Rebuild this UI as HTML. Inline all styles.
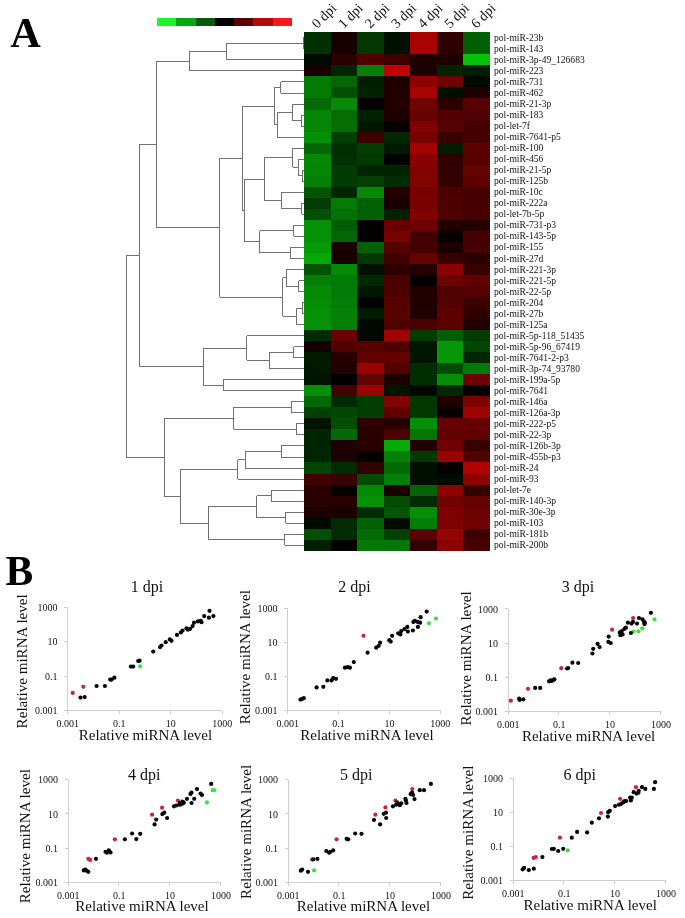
<!DOCTYPE html>
<html lang="en"><head><meta charset="utf-8"><title>Figure</title>
<style>html,body{margin:0;padding:0;background:#fff}body{width:685px;height:918px;overflow:hidden}</style>
</head><body>
<svg width="685" height="918" viewBox="0 0 685 918" style="display:block;will-change:transform">
<rect width="685" height="918" fill="#fff"/>
<g shape-rendering="crispEdges">
<rect x="157.00" y="18.0" width="19.59" height="8.20" fill="#1cf52a"/>
<rect x="176.29" y="18.0" width="19.59" height="8.20" fill="#0aa514"/>
<rect x="195.57" y="18.0" width="19.59" height="8.20" fill="#095a0c"/>
<rect x="214.86" y="18.0" width="19.59" height="8.20" fill="#020202"/>
<rect x="234.14" y="18.0" width="19.59" height="8.20" fill="#5a0303"/>
<rect x="253.43" y="18.0" width="19.59" height="8.20" fill="#b40a0a"/>
<rect x="272.71" y="18.0" width="19.59" height="8.20" fill="#ff1616"/>
</g>
<g shape-rendering="crispEdges">
<rect x="304.00" y="32.30" width="26.94" height="11.43" fill="rgb(1,48,2)"/>
<rect x="330.54" y="32.30" width="26.94" height="11.43" fill="rgb(23,0,0)"/>
<rect x="357.08" y="32.30" width="26.94" height="11.43" fill="rgb(2,55,2)"/>
<rect x="383.62" y="32.30" width="26.94" height="11.43" fill="rgb(0,17,0)"/>
<rect x="410.16" y="32.30" width="26.94" height="11.43" fill="rgb(170,3,3)"/>
<rect x="436.70" y="32.30" width="26.94" height="11.43" fill="rgb(47,0,0)"/>
<rect x="463.24" y="32.30" width="26.94" height="11.43" fill="rgb(3,95,4)"/>
<rect x="304.00" y="43.33" width="26.94" height="11.43" fill="rgb(1,48,2)"/>
<rect x="330.54" y="43.33" width="26.94" height="11.43" fill="rgb(23,0,0)"/>
<rect x="357.08" y="43.33" width="26.94" height="11.43" fill="rgb(2,55,2)"/>
<rect x="383.62" y="43.33" width="26.94" height="11.43" fill="rgb(0,17,0)"/>
<rect x="410.16" y="43.33" width="26.94" height="11.43" fill="rgb(170,3,3)"/>
<rect x="436.70" y="43.33" width="26.94" height="11.43" fill="rgb(47,0,0)"/>
<rect x="463.24" y="43.33" width="26.94" height="11.43" fill="rgb(3,95,4)"/>
<rect x="304.00" y="54.36" width="26.94" height="11.43" fill="rgb(0,10,0)"/>
<rect x="330.54" y="54.36" width="26.94" height="11.43" fill="rgb(43,0,0)"/>
<rect x="357.08" y="54.36" width="26.94" height="11.43" fill="rgb(78,1,1)"/>
<rect x="383.62" y="54.36" width="26.94" height="11.43" fill="rgb(62,1,1)"/>
<rect x="410.16" y="54.36" width="26.94" height="11.43" fill="rgb(31,0,0)"/>
<rect x="436.70" y="54.36" width="26.94" height="11.43" fill="rgb(31,0,0)"/>
<rect x="463.24" y="54.36" width="26.94" height="11.43" fill="rgb(7,192,9)"/>
<rect x="304.00" y="65.39" width="26.94" height="11.43" fill="rgb(23,0,0)"/>
<rect x="330.54" y="65.39" width="26.94" height="11.43" fill="rgb(1,38,1)"/>
<rect x="357.08" y="65.39" width="26.94" height="11.43" fill="rgb(5,127,6)"/>
<rect x="383.62" y="65.39" width="26.94" height="11.43" fill="rgb(192,3,3)"/>
<rect x="410.16" y="65.39" width="26.94" height="11.43" fill="rgb(29,0,0)"/>
<rect x="436.70" y="65.39" width="26.94" height="11.43" fill="rgb(1,37,1)"/>
<rect x="463.24" y="65.39" width="26.94" height="11.43" fill="rgb(1,30,1)"/>
<rect x="304.00" y="76.42" width="26.94" height="11.43" fill="rgb(4,122,6)"/>
<rect x="330.54" y="76.42" width="26.94" height="11.43" fill="rgb(4,102,5)"/>
<rect x="357.08" y="76.42" width="26.94" height="11.43" fill="rgb(1,30,1)"/>
<rect x="383.62" y="76.42" width="26.94" height="11.43" fill="rgb(30,0,0)"/>
<rect x="410.16" y="76.42" width="26.94" height="11.43" fill="rgb(142,2,2)"/>
<rect x="436.70" y="76.42" width="26.94" height="11.43" fill="rgb(108,2,2)"/>
<rect x="463.24" y="76.42" width="26.94" height="11.43" fill="rgb(0,9,0)"/>
<rect x="304.00" y="87.45" width="26.94" height="11.43" fill="rgb(4,122,6)"/>
<rect x="330.54" y="87.45" width="26.94" height="11.43" fill="rgb(3,80,4)"/>
<rect x="357.08" y="87.45" width="26.94" height="11.43" fill="rgb(1,34,1)"/>
<rect x="383.62" y="87.45" width="26.94" height="11.43" fill="rgb(32,0,0)"/>
<rect x="410.16" y="87.45" width="26.94" height="11.43" fill="rgb(168,3,3)"/>
<rect x="436.70" y="87.45" width="26.94" height="11.43" fill="rgb(0,16,0)"/>
<rect x="463.24" y="87.45" width="26.94" height="11.43" fill="rgb(31,0,0)"/>
<rect x="304.00" y="98.48" width="26.94" height="11.43" fill="rgb(4,106,5)"/>
<rect x="330.54" y="98.48" width="26.94" height="11.43" fill="rgb(5,137,6)"/>
<rect x="357.08" y="98.48" width="26.94" height="11.43" fill="rgb(4,0,0)"/>
<rect x="383.62" y="98.48" width="26.94" height="11.43" fill="rgb(35,0,0)"/>
<rect x="410.16" y="98.48" width="26.94" height="11.43" fill="rgb(113,2,2)"/>
<rect x="436.70" y="98.48" width="26.94" height="11.43" fill="rgb(42,0,0)"/>
<rect x="463.24" y="98.48" width="26.94" height="11.43" fill="rgb(87,1,1)"/>
<rect x="304.00" y="109.51" width="26.94" height="11.43" fill="rgb(5,133,6)"/>
<rect x="330.54" y="109.51" width="26.94" height="11.43" fill="rgb(4,110,5)"/>
<rect x="357.08" y="109.51" width="26.94" height="11.43" fill="rgb(1,31,1)"/>
<rect x="383.62" y="109.51" width="26.94" height="11.43" fill="rgb(30,0,0)"/>
<rect x="410.16" y="109.51" width="26.94" height="11.43" fill="rgb(103,2,2)"/>
<rect x="436.70" y="109.51" width="26.94" height="11.43" fill="rgb(81,1,1)"/>
<rect x="463.24" y="109.51" width="26.94" height="11.43" fill="rgb(81,1,1)"/>
<rect x="304.00" y="120.54" width="26.94" height="11.43" fill="rgb(5,133,6)"/>
<rect x="330.54" y="120.54" width="26.94" height="11.43" fill="rgb(4,110,5)"/>
<rect x="357.08" y="120.54" width="26.94" height="11.43" fill="rgb(0,22,1)"/>
<rect x="383.62" y="120.54" width="26.94" height="11.43" fill="rgb(6,0,0)"/>
<rect x="410.16" y="120.54" width="26.94" height="11.43" fill="rgb(128,2,2)"/>
<rect x="436.70" y="120.54" width="26.94" height="11.43" fill="rgb(85,1,1)"/>
<rect x="463.24" y="120.54" width="26.94" height="11.43" fill="rgb(65,1,1)"/>
<rect x="304.00" y="131.57" width="26.94" height="11.43" fill="rgb(5,143,7)"/>
<rect x="330.54" y="131.57" width="26.94" height="11.43" fill="rgb(2,62,3)"/>
<rect x="357.08" y="131.57" width="26.94" height="11.43" fill="rgb(60,1,1)"/>
<rect x="383.62" y="131.57" width="26.94" height="11.43" fill="rgb(1,40,2)"/>
<rect x="410.16" y="131.57" width="26.94" height="11.43" fill="rgb(120,2,2)"/>
<rect x="436.70" y="131.57" width="26.94" height="11.43" fill="rgb(55,1,1)"/>
<rect x="463.24" y="131.57" width="26.94" height="11.43" fill="rgb(71,1,1)"/>
<rect x="304.00" y="142.60" width="26.94" height="11.43" fill="rgb(4,103,5)"/>
<rect x="330.54" y="142.60" width="26.94" height="11.43" fill="rgb(1,47,2)"/>
<rect x="357.08" y="142.60" width="26.94" height="11.43" fill="rgb(2,62,3)"/>
<rect x="383.62" y="142.60" width="26.94" height="11.43" fill="rgb(1,27,1)"/>
<rect x="410.16" y="142.60" width="26.94" height="11.43" fill="rgb(163,3,3)"/>
<rect x="436.70" y="142.60" width="26.94" height="11.43" fill="rgb(1,28,1)"/>
<rect x="463.24" y="142.60" width="26.94" height="11.43" fill="rgb(91,1,1)"/>
<rect x="304.00" y="153.63" width="26.94" height="11.43" fill="rgb(5,136,6)"/>
<rect x="330.54" y="153.63" width="26.94" height="11.43" fill="rgb(1,49,2)"/>
<rect x="357.08" y="153.63" width="26.94" height="11.43" fill="rgb(2,59,2)"/>
<rect x="383.62" y="153.63" width="26.94" height="11.43" fill="rgb(0,3,0)"/>
<rect x="410.16" y="153.63" width="26.94" height="11.43" fill="rgb(137,2,2)"/>
<rect x="436.70" y="153.63" width="26.94" height="11.43" fill="rgb(47,0,0)"/>
<rect x="463.24" y="153.63" width="26.94" height="11.43" fill="rgb(87,1,1)"/>
<rect x="304.00" y="164.66" width="26.94" height="11.43" fill="rgb(5,132,6)"/>
<rect x="330.54" y="164.66" width="26.94" height="11.43" fill="rgb(2,60,3)"/>
<rect x="357.08" y="164.66" width="26.94" height="11.43" fill="rgb(1,37,1)"/>
<rect x="383.62" y="164.66" width="26.94" height="11.43" fill="rgb(1,37,1)"/>
<rect x="410.16" y="164.66" width="26.94" height="11.43" fill="rgb(130,2,2)"/>
<rect x="436.70" y="164.66" width="26.94" height="11.43" fill="rgb(51,1,1)"/>
<rect x="463.24" y="164.66" width="26.94" height="11.43" fill="rgb(101,2,2)"/>
<rect x="304.00" y="175.69" width="26.94" height="11.43" fill="rgb(5,127,6)"/>
<rect x="330.54" y="175.69" width="26.94" height="11.43" fill="rgb(2,59,2)"/>
<rect x="357.08" y="175.69" width="26.94" height="11.43" fill="rgb(2,63,3)"/>
<rect x="383.62" y="175.69" width="26.94" height="11.43" fill="rgb(1,43,2)"/>
<rect x="410.16" y="175.69" width="26.94" height="11.43" fill="rgb(130,2,2)"/>
<rect x="436.70" y="175.69" width="26.94" height="11.43" fill="rgb(52,1,1)"/>
<rect x="463.24" y="175.69" width="26.94" height="11.43" fill="rgb(96,1,1)"/>
<rect x="304.00" y="186.72" width="26.94" height="11.43" fill="rgb(3,85,4)"/>
<rect x="330.54" y="186.72" width="26.94" height="11.43" fill="rgb(1,37,1)"/>
<rect x="357.08" y="186.72" width="26.94" height="11.43" fill="rgb(5,137,6)"/>
<rect x="383.62" y="186.72" width="26.94" height="11.43" fill="rgb(37,0,0)"/>
<rect x="410.16" y="186.72" width="26.94" height="11.43" fill="rgb(118,2,2)"/>
<rect x="436.70" y="186.72" width="26.94" height="11.43" fill="rgb(76,1,1)"/>
<rect x="463.24" y="186.72" width="26.94" height="11.43" fill="rgb(71,1,1)"/>
<rect x="304.00" y="197.75" width="26.94" height="11.43" fill="rgb(2,61,3)"/>
<rect x="330.54" y="197.75" width="26.94" height="11.43" fill="rgb(4,122,6)"/>
<rect x="357.08" y="197.75" width="26.94" height="11.43" fill="rgb(3,96,4)"/>
<rect x="383.62" y="197.75" width="26.94" height="11.43" fill="rgb(24,0,0)"/>
<rect x="410.16" y="197.75" width="26.94" height="11.43" fill="rgb(122,2,2)"/>
<rect x="436.70" y="197.75" width="26.94" height="11.43" fill="rgb(77,1,1)"/>
<rect x="463.24" y="197.75" width="26.94" height="11.43" fill="rgb(72,1,1)"/>
<rect x="304.00" y="208.78" width="26.94" height="11.43" fill="rgb(3,79,3)"/>
<rect x="330.54" y="208.78" width="26.94" height="11.43" fill="rgb(4,115,5)"/>
<rect x="357.08" y="208.78" width="26.94" height="11.43" fill="rgb(3,96,4)"/>
<rect x="383.62" y="208.78" width="26.94" height="11.43" fill="rgb(1,33,1)"/>
<rect x="410.16" y="208.78" width="26.94" height="11.43" fill="rgb(130,2,2)"/>
<rect x="436.70" y="208.78" width="26.94" height="11.43" fill="rgb(77,1,1)"/>
<rect x="463.24" y="208.78" width="26.94" height="11.43" fill="rgb(72,1,1)"/>
<rect x="304.00" y="219.81" width="26.94" height="11.43" fill="rgb(5,144,7)"/>
<rect x="330.54" y="219.81" width="26.94" height="11.43" fill="rgb(3,93,4)"/>
<rect x="357.08" y="219.81" width="26.94" height="11.43" fill="rgb(2,0,0)"/>
<rect x="383.62" y="219.81" width="26.94" height="11.43" fill="rgb(104,2,2)"/>
<rect x="410.16" y="219.81" width="26.94" height="11.43" fill="rgb(110,2,2)"/>
<rect x="436.70" y="219.81" width="26.94" height="11.43" fill="rgb(35,0,0)"/>
<rect x="463.24" y="219.81" width="26.94" height="11.43" fill="rgb(36,0,0)"/>
<rect x="304.00" y="230.84" width="26.94" height="11.43" fill="rgb(5,144,7)"/>
<rect x="330.54" y="230.84" width="26.94" height="11.43" fill="rgb(4,103,5)"/>
<rect x="357.08" y="230.84" width="26.94" height="11.43" fill="rgb(2,0,0)"/>
<rect x="383.62" y="230.84" width="26.94" height="11.43" fill="rgb(118,2,2)"/>
<rect x="410.16" y="230.84" width="26.94" height="11.43" fill="rgb(65,1,1)"/>
<rect x="436.70" y="230.84" width="26.94" height="11.43" fill="rgb(6,0,0)"/>
<rect x="463.24" y="230.84" width="26.94" height="11.43" fill="rgb(70,1,1)"/>
<rect x="304.00" y="241.87" width="26.94" height="11.43" fill="rgb(6,154,7)"/>
<rect x="330.54" y="241.87" width="26.94" height="11.43" fill="rgb(23,0,0)"/>
<rect x="357.08" y="241.87" width="26.94" height="11.43" fill="rgb(3,96,4)"/>
<rect x="383.62" y="241.87" width="26.94" height="11.43" fill="rgb(86,1,1)"/>
<rect x="410.16" y="241.87" width="26.94" height="11.43" fill="rgb(68,1,1)"/>
<rect x="436.70" y="241.87" width="26.94" height="11.43" fill="rgb(27,0,0)"/>
<rect x="463.24" y="241.87" width="26.94" height="11.43" fill="rgb(70,1,1)"/>
<rect x="304.00" y="252.90" width="26.94" height="11.43" fill="rgb(6,167,8)"/>
<rect x="330.54" y="252.90" width="26.94" height="11.43" fill="rgb(23,0,0)"/>
<rect x="357.08" y="252.90" width="26.94" height="11.43" fill="rgb(2,55,2)"/>
<rect x="383.62" y="252.90" width="26.94" height="11.43" fill="rgb(66,1,1)"/>
<rect x="410.16" y="252.90" width="26.94" height="11.43" fill="rgb(102,2,2)"/>
<rect x="436.70" y="252.90" width="26.94" height="11.43" fill="rgb(55,1,1)"/>
<rect x="463.24" y="252.90" width="26.94" height="11.43" fill="rgb(41,0,0)"/>
<rect x="304.00" y="263.93" width="26.94" height="11.43" fill="rgb(3,85,4)"/>
<rect x="330.54" y="263.93" width="26.94" height="11.43" fill="rgb(5,138,6)"/>
<rect x="357.08" y="263.93" width="26.94" height="11.43" fill="rgb(0,17,0)"/>
<rect x="383.62" y="263.93" width="26.94" height="11.43" fill="rgb(47,0,0)"/>
<rect x="410.16" y="263.93" width="26.94" height="11.43" fill="rgb(37,0,0)"/>
<rect x="436.70" y="263.93" width="26.94" height="11.43" fill="rgb(138,2,2)"/>
<rect x="463.24" y="263.93" width="26.94" height="11.43" fill="rgb(56,1,1)"/>
<rect x="304.00" y="274.96" width="26.94" height="11.43" fill="rgb(5,127,6)"/>
<rect x="330.54" y="274.96" width="26.94" height="11.43" fill="rgb(4,122,6)"/>
<rect x="357.08" y="274.96" width="26.94" height="11.43" fill="rgb(1,41,2)"/>
<rect x="383.62" y="274.96" width="26.94" height="11.43" fill="rgb(73,1,1)"/>
<rect x="410.16" y="274.96" width="26.94" height="11.43" fill="rgb(5,0,0)"/>
<rect x="436.70" y="274.96" width="26.94" height="11.43" fill="rgb(108,2,2)"/>
<rect x="463.24" y="274.96" width="26.94" height="11.43" fill="rgb(97,1,1)"/>
<rect x="304.00" y="285.99" width="26.94" height="11.43" fill="rgb(5,138,6)"/>
<rect x="330.54" y="285.99" width="26.94" height="11.43" fill="rgb(4,122,6)"/>
<rect x="357.08" y="285.99" width="26.94" height="11.43" fill="rgb(0,24,1)"/>
<rect x="383.62" y="285.99" width="26.94" height="11.43" fill="rgb(76,1,1)"/>
<rect x="410.16" y="285.99" width="26.94" height="11.43" fill="rgb(35,0,0)"/>
<rect x="436.70" y="285.99" width="26.94" height="11.43" fill="rgb(82,1,1)"/>
<rect x="463.24" y="285.99" width="26.94" height="11.43" fill="rgb(86,1,1)"/>
<rect x="304.00" y="297.02" width="26.94" height="11.43" fill="rgb(5,141,7)"/>
<rect x="330.54" y="297.02" width="26.94" height="11.43" fill="rgb(4,124,6)"/>
<rect x="357.08" y="297.02" width="26.94" height="11.43" fill="rgb(2,0,0)"/>
<rect x="383.62" y="297.02" width="26.94" height="11.43" fill="rgb(88,1,1)"/>
<rect x="410.16" y="297.02" width="26.94" height="11.43" fill="rgb(30,0,0)"/>
<rect x="436.70" y="297.02" width="26.94" height="11.43" fill="rgb(82,1,1)"/>
<rect x="463.24" y="297.02" width="26.94" height="11.43" fill="rgb(62,1,1)"/>
<rect x="304.00" y="308.05" width="26.94" height="11.43" fill="rgb(5,144,7)"/>
<rect x="330.54" y="308.05" width="26.94" height="11.43" fill="rgb(5,127,6)"/>
<rect x="357.08" y="308.05" width="26.94" height="11.43" fill="rgb(1,27,1)"/>
<rect x="383.62" y="308.05" width="26.94" height="11.43" fill="rgb(88,1,1)"/>
<rect x="410.16" y="308.05" width="26.94" height="11.43" fill="rgb(32,0,0)"/>
<rect x="436.70" y="308.05" width="26.94" height="11.43" fill="rgb(96,1,1)"/>
<rect x="463.24" y="308.05" width="26.94" height="11.43" fill="rgb(46,0,0)"/>
<rect x="304.00" y="319.08" width="26.94" height="11.43" fill="rgb(5,144,7)"/>
<rect x="330.54" y="319.08" width="26.94" height="11.43" fill="rgb(5,127,6)"/>
<rect x="357.08" y="319.08" width="26.94" height="11.43" fill="rgb(0,6,0)"/>
<rect x="383.62" y="319.08" width="26.94" height="11.43" fill="rgb(79,1,1)"/>
<rect x="410.16" y="319.08" width="26.94" height="11.43" fill="rgb(73,1,1)"/>
<rect x="436.70" y="319.08" width="26.94" height="11.43" fill="rgb(91,1,1)"/>
<rect x="463.24" y="319.08" width="26.94" height="11.43" fill="rgb(33,0,0)"/>
<rect x="304.00" y="330.11" width="26.94" height="11.43" fill="rgb(1,43,2)"/>
<rect x="330.54" y="330.11" width="26.94" height="11.43" fill="rgb(106,2,2)"/>
<rect x="357.08" y="330.11" width="26.94" height="11.43" fill="rgb(0,6,0)"/>
<rect x="383.62" y="330.11" width="26.94" height="11.43" fill="rgb(160,3,3)"/>
<rect x="410.16" y="330.11" width="26.94" height="11.43" fill="rgb(2,60,3)"/>
<rect x="436.70" y="330.11" width="26.94" height="11.43" fill="rgb(3,95,4)"/>
<rect x="463.24" y="330.11" width="26.94" height="11.43" fill="rgb(2,60,3)"/>
<rect x="304.00" y="341.14" width="26.94" height="11.43" fill="rgb(20,0,0)"/>
<rect x="330.54" y="341.14" width="26.94" height="11.43" fill="rgb(82,1,1)"/>
<rect x="357.08" y="341.14" width="26.94" height="11.43" fill="rgb(89,1,1)"/>
<rect x="383.62" y="341.14" width="26.94" height="11.43" fill="rgb(78,1,1)"/>
<rect x="410.16" y="341.14" width="26.94" height="11.43" fill="rgb(0,22,1)"/>
<rect x="436.70" y="341.14" width="26.94" height="11.43" fill="rgb(6,150,7)"/>
<rect x="463.24" y="341.14" width="26.94" height="11.43" fill="rgb(2,70,3)"/>
<rect x="304.00" y="352.17" width="26.94" height="11.43" fill="rgb(1,27,1)"/>
<rect x="330.54" y="352.17" width="26.94" height="11.43" fill="rgb(40,0,0)"/>
<rect x="357.08" y="352.17" width="26.94" height="11.43" fill="rgb(99,1,1)"/>
<rect x="383.62" y="352.17" width="26.94" height="11.43" fill="rgb(100,2,2)"/>
<rect x="410.16" y="352.17" width="26.94" height="11.43" fill="rgb(0,22,1)"/>
<rect x="436.70" y="352.17" width="26.94" height="11.43" fill="rgb(6,150,7)"/>
<rect x="463.24" y="352.17" width="26.94" height="11.43" fill="rgb(1,38,1)"/>
<rect x="304.00" y="363.20" width="26.94" height="11.43" fill="rgb(1,25,1)"/>
<rect x="330.54" y="363.20" width="26.94" height="11.43" fill="rgb(36,0,0)"/>
<rect x="357.08" y="363.20" width="26.94" height="11.43" fill="rgb(152,3,3)"/>
<rect x="383.62" y="363.20" width="26.94" height="11.43" fill="rgb(82,1,1)"/>
<rect x="410.16" y="363.20" width="26.94" height="11.43" fill="rgb(1,45,2)"/>
<rect x="436.70" y="363.20" width="26.94" height="11.43" fill="rgb(3,75,3)"/>
<rect x="463.24" y="363.20" width="26.94" height="11.43" fill="rgb(4,122,6)"/>
<rect x="304.00" y="374.23" width="26.94" height="11.43" fill="rgb(0,20,1)"/>
<rect x="330.54" y="374.23" width="26.94" height="11.43" fill="rgb(3,0,0)"/>
<rect x="357.08" y="374.23" width="26.94" height="11.43" fill="rgb(101,2,2)"/>
<rect x="383.62" y="374.23" width="26.94" height="11.43" fill="rgb(27,0,0)"/>
<rect x="410.16" y="374.23" width="26.94" height="11.43" fill="rgb(1,45,2)"/>
<rect x="436.70" y="374.23" width="26.94" height="11.43" fill="rgb(5,142,7)"/>
<rect x="463.24" y="374.23" width="26.94" height="11.43" fill="rgb(108,2,2)"/>
<rect x="304.00" y="385.26" width="26.94" height="11.43" fill="rgb(5,142,7)"/>
<rect x="330.54" y="385.26" width="26.94" height="11.43" fill="rgb(69,1,1)"/>
<rect x="357.08" y="385.26" width="26.94" height="11.43" fill="rgb(156,3,3)"/>
<rect x="383.62" y="385.26" width="26.94" height="11.43" fill="rgb(0,20,1)"/>
<rect x="410.16" y="385.26" width="26.94" height="11.43" fill="rgb(0,8,0)"/>
<rect x="436.70" y="385.26" width="26.94" height="11.43" fill="rgb(1,40,2)"/>
<rect x="463.24" y="385.26" width="26.94" height="11.43" fill="rgb(4,0,0)"/>
<rect x="304.00" y="396.29" width="26.94" height="11.43" fill="rgb(4,104,5)"/>
<rect x="330.54" y="396.29" width="26.94" height="11.43" fill="rgb(1,41,2)"/>
<rect x="357.08" y="396.29" width="26.94" height="11.43" fill="rgb(2,62,3)"/>
<rect x="383.62" y="396.29" width="26.94" height="11.43" fill="rgb(130,2,2)"/>
<rect x="410.16" y="396.29" width="26.94" height="11.43" fill="rgb(2,55,2)"/>
<rect x="436.70" y="396.29" width="26.94" height="11.43" fill="rgb(35,0,0)"/>
<rect x="463.24" y="396.29" width="26.94" height="11.43" fill="rgb(125,2,2)"/>
<rect x="304.00" y="407.32" width="26.94" height="11.43" fill="rgb(2,64,3)"/>
<rect x="330.54" y="407.32" width="26.94" height="11.43" fill="rgb(2,72,3)"/>
<rect x="357.08" y="407.32" width="26.94" height="11.43" fill="rgb(2,61,3)"/>
<rect x="383.62" y="407.32" width="26.94" height="11.43" fill="rgb(96,1,1)"/>
<rect x="410.16" y="407.32" width="26.94" height="11.43" fill="rgb(2,57,2)"/>
<rect x="436.70" y="407.32" width="26.94" height="11.43" fill="rgb(6,0,0)"/>
<rect x="463.24" y="407.32" width="26.94" height="11.43" fill="rgb(160,3,3)"/>
<rect x="304.00" y="418.35" width="26.94" height="11.43" fill="rgb(0,20,1)"/>
<rect x="330.54" y="418.35" width="26.94" height="11.43" fill="rgb(3,78,3)"/>
<rect x="357.08" y="418.35" width="26.94" height="11.43" fill="rgb(46,0,0)"/>
<rect x="383.62" y="418.35" width="26.94" height="11.43" fill="rgb(37,0,0)"/>
<rect x="410.16" y="418.35" width="26.94" height="11.43" fill="rgb(5,142,7)"/>
<rect x="436.70" y="418.35" width="26.94" height="11.43" fill="rgb(102,2,2)"/>
<rect x="463.24" y="418.35" width="26.94" height="11.43" fill="rgb(102,2,2)"/>
<rect x="304.00" y="429.38" width="26.94" height="11.43" fill="rgb(1,37,1)"/>
<rect x="330.54" y="429.38" width="26.94" height="11.43" fill="rgb(4,106,5)"/>
<rect x="357.08" y="429.38" width="26.94" height="11.43" fill="rgb(40,0,0)"/>
<rect x="383.62" y="429.38" width="26.94" height="11.43" fill="rgb(78,1,1)"/>
<rect x="410.16" y="429.38" width="26.94" height="11.43" fill="rgb(4,118,5)"/>
<rect x="436.70" y="429.38" width="26.94" height="11.43" fill="rgb(98,1,1)"/>
<rect x="463.24" y="429.38" width="26.94" height="11.43" fill="rgb(98,1,1)"/>
<rect x="304.00" y="440.41" width="26.94" height="11.43" fill="rgb(1,36,1)"/>
<rect x="330.54" y="440.41" width="26.94" height="11.43" fill="rgb(29,0,0)"/>
<rect x="357.08" y="440.41" width="26.94" height="11.43" fill="rgb(40,0,0)"/>
<rect x="383.62" y="440.41" width="26.94" height="11.43" fill="rgb(6,170,8)"/>
<rect x="410.16" y="440.41" width="26.94" height="11.43" fill="rgb(34,0,0)"/>
<rect x="436.70" y="440.41" width="26.94" height="11.43" fill="rgb(110,2,2)"/>
<rect x="463.24" y="440.41" width="26.94" height="11.43" fill="rgb(54,1,1)"/>
<rect x="304.00" y="451.44" width="26.94" height="11.43" fill="rgb(1,36,1)"/>
<rect x="330.54" y="451.44" width="26.94" height="11.43" fill="rgb(26,0,0)"/>
<rect x="357.08" y="451.44" width="26.94" height="11.43" fill="rgb(5,0,0)"/>
<rect x="383.62" y="451.44" width="26.94" height="11.43" fill="rgb(5,128,6)"/>
<rect x="410.16" y="451.44" width="26.94" height="11.43" fill="rgb(2,57,2)"/>
<rect x="436.70" y="451.44" width="26.94" height="11.43" fill="rgb(152,3,3)"/>
<rect x="463.24" y="451.44" width="26.94" height="11.43" fill="rgb(80,1,1)"/>
<rect x="304.00" y="462.47" width="26.94" height="11.43" fill="rgb(2,68,3)"/>
<rect x="330.54" y="462.47" width="26.94" height="11.43" fill="rgb(1,43,2)"/>
<rect x="357.08" y="462.47" width="26.94" height="11.43" fill="rgb(50,1,1)"/>
<rect x="383.62" y="462.47" width="26.94" height="11.43" fill="rgb(4,106,5)"/>
<rect x="410.16" y="462.47" width="26.94" height="11.43" fill="rgb(0,15,0)"/>
<rect x="436.70" y="462.47" width="26.94" height="11.43" fill="rgb(8,0,0)"/>
<rect x="463.24" y="462.47" width="26.94" height="11.43" fill="rgb(175,3,3)"/>
<rect x="304.00" y="473.50" width="26.94" height="11.43" fill="rgb(63,1,1)"/>
<rect x="330.54" y="473.50" width="26.94" height="11.43" fill="rgb(55,1,1)"/>
<rect x="357.08" y="473.50" width="26.94" height="11.43" fill="rgb(3,75,3)"/>
<rect x="383.62" y="473.50" width="26.94" height="11.43" fill="rgb(5,128,6)"/>
<rect x="410.16" y="473.50" width="26.94" height="11.43" fill="rgb(0,15,0)"/>
<rect x="436.70" y="473.50" width="26.94" height="11.43" fill="rgb(0,12,0)"/>
<rect x="463.24" y="473.50" width="26.94" height="11.43" fill="rgb(142,2,2)"/>
<rect x="304.00" y="484.53" width="26.94" height="11.43" fill="rgb(43,0,0)"/>
<rect x="330.54" y="484.53" width="26.94" height="11.43" fill="rgb(8,0,0)"/>
<rect x="357.08" y="484.53" width="26.94" height="11.43" fill="rgb(5,137,6)"/>
<rect x="383.62" y="484.53" width="26.94" height="11.43" fill="rgb(27,0,0)"/>
<rect x="410.16" y="484.53" width="26.94" height="11.43" fill="rgb(4,100,5)"/>
<rect x="436.70" y="484.53" width="26.94" height="11.43" fill="rgb(142,2,2)"/>
<rect x="463.24" y="484.53" width="26.94" height="11.43" fill="rgb(50,1,1)"/>
<rect x="304.00" y="495.56" width="26.94" height="11.43" fill="rgb(39,0,0)"/>
<rect x="330.54" y="495.56" width="26.94" height="11.43" fill="rgb(39,0,0)"/>
<rect x="357.08" y="495.56" width="26.94" height="11.43" fill="rgb(5,145,7)"/>
<rect x="383.62" y="495.56" width="26.94" height="11.43" fill="rgb(3,75,3)"/>
<rect x="410.16" y="495.56" width="26.94" height="11.43" fill="rgb(1,43,2)"/>
<rect x="436.70" y="495.56" width="26.94" height="11.43" fill="rgb(112,2,2)"/>
<rect x="463.24" y="495.56" width="26.94" height="11.43" fill="rgb(102,2,2)"/>
<rect x="304.00" y="506.59" width="26.94" height="11.43" fill="rgb(29,0,0)"/>
<rect x="330.54" y="506.59" width="26.94" height="11.43" fill="rgb(28,0,0)"/>
<rect x="357.08" y="506.59" width="26.94" height="11.43" fill="rgb(1,43,2)"/>
<rect x="383.62" y="506.59" width="26.94" height="11.43" fill="rgb(3,86,4)"/>
<rect x="410.16" y="506.59" width="26.94" height="11.43" fill="rgb(5,142,7)"/>
<rect x="436.70" y="506.59" width="26.94" height="11.43" fill="rgb(126,2,2)"/>
<rect x="463.24" y="506.59" width="26.94" height="11.43" fill="rgb(106,2,2)"/>
<rect x="304.00" y="517.62" width="26.94" height="11.43" fill="rgb(0,11,0)"/>
<rect x="330.54" y="517.62" width="26.94" height="11.43" fill="rgb(1,41,2)"/>
<rect x="357.08" y="517.62" width="26.94" height="11.43" fill="rgb(3,96,4)"/>
<rect x="383.62" y="517.62" width="26.94" height="11.43" fill="rgb(0,11,0)"/>
<rect x="410.16" y="517.62" width="26.94" height="11.43" fill="rgb(5,126,6)"/>
<rect x="436.70" y="517.62" width="26.94" height="11.43" fill="rgb(126,2,2)"/>
<rect x="463.24" y="517.62" width="26.94" height="11.43" fill="rgb(112,2,2)"/>
<rect x="304.00" y="528.65" width="26.94" height="11.43" fill="rgb(3,80,4)"/>
<rect x="330.54" y="528.65" width="26.94" height="11.43" fill="rgb(1,43,2)"/>
<rect x="357.08" y="528.65" width="26.94" height="11.43" fill="rgb(4,106,5)"/>
<rect x="383.62" y="528.65" width="26.94" height="11.43" fill="rgb(2,65,3)"/>
<rect x="410.16" y="528.65" width="26.94" height="11.43" fill="rgb(90,1,1)"/>
<rect x="436.70" y="528.65" width="26.94" height="11.43" fill="rgb(150,3,3)"/>
<rect x="463.24" y="528.65" width="26.94" height="11.43" fill="rgb(60,1,1)"/>
<rect x="304.00" y="539.68" width="26.94" height="11.43" fill="rgb(1,32,1)"/>
<rect x="330.54" y="539.68" width="26.94" height="11.43" fill="rgb(3,0,0)"/>
<rect x="357.08" y="539.68" width="26.94" height="11.43" fill="rgb(4,121,6)"/>
<rect x="383.62" y="539.68" width="26.94" height="11.43" fill="rgb(4,118,5)"/>
<rect x="410.16" y="539.68" width="26.94" height="11.43" fill="rgb(52,1,1)"/>
<rect x="436.70" y="539.68" width="26.94" height="11.43" fill="rgb(140,2,2)"/>
<rect x="463.24" y="539.68" width="26.94" height="11.43" fill="rgb(70,1,1)"/>
</g>
<g font-family="'Liberation Serif', serif" font-size="9.55" fill="#111">
<text x="494" y="40.91">pol-miR-23b</text>
<text x="494" y="51.95">pol-miR-143</text>
<text x="494" y="62.98">pol-miR-3p-49_126683</text>
<text x="494" y="74.00">pol-miR-223</text>
<text x="494" y="85.03">pol-miR-731</text>
<text x="494" y="96.06">pol-miR-462</text>
<text x="494" y="107.09">pol-miR-21-3p</text>
<text x="494" y="118.12">pol-miR-183</text>
<text x="494" y="129.16">pol-let-7f</text>
<text x="494" y="140.18">pol-miR-7641-p5</text>
<text x="494" y="151.22">pol-miR-100</text>
<text x="494" y="162.24">pol-miR-456</text>
<text x="494" y="173.28">pol-miR-21-5p</text>
<text x="494" y="184.30">pol-miR-125b</text>
<text x="494" y="195.34">pol-miR-10c</text>
<text x="494" y="206.36">pol-miR-222a</text>
<text x="494" y="217.39">pol-let-7b-5p</text>
<text x="494" y="228.42">pol-miR-731-p3</text>
<text x="494" y="239.45">pol-miR-143-5p</text>
<text x="494" y="250.48">pol-miR-155</text>
<text x="494" y="261.51">pol-miR-27d</text>
<text x="494" y="272.55">pol-miR-221-3p</text>
<text x="494" y="283.57">pol-miR-221-5p</text>
<text x="494" y="294.61">pol-miR-22-5p</text>
<text x="494" y="305.63">pol-miR-204</text>
<text x="494" y="316.67">pol-miR-27b</text>
<text x="494" y="327.69">pol-miR-125a</text>
<text x="494" y="338.73">pol-miR-5p-118_51435</text>
<text x="494" y="349.75">pol-miR-5p-96_67419</text>
<text x="494" y="360.79">pol-miR-7641-2-p3</text>
<text x="494" y="371.81">pol-miR-3p-74_93780</text>
<text x="494" y="382.85">pol-miR-199a-5p</text>
<text x="494" y="393.88">pol-miR-7641</text>
<text x="494" y="404.91">pol-miR-146a</text>
<text x="494" y="415.94">pol-miR-126a-3p</text>
<text x="494" y="426.97">pol-miR-222-p5</text>
<text x="494" y="438.00">pol-miR-22-3p</text>
<text x="494" y="449.03">pol-miR-126b-3p</text>
<text x="494" y="460.06">pol-miR-455b-p3</text>
<text x="494" y="471.09">pol-miR-24</text>
<text x="494" y="482.12">pol-miR-93</text>
<text x="494" y="493.14">pol-let-7e</text>
<text x="494" y="504.18">pol-miR-140-3p</text>
<text x="494" y="515.20">pol-miR-30e-3p</text>
<text x="494" y="526.24">pol-miR-103</text>
<text x="494" y="537.26">pol-miR-181b</text>
<text x="494" y="548.29">pol-miR-200b</text>
</g>
<g font-family="'Liberation Serif', serif" font-size="14" fill="#111">
<text transform="translate(317.20,29.1) rotate(-45)">0 dpi</text>
<text transform="translate(343.74,29.1) rotate(-45)">1 dpi</text>
<text transform="translate(370.28,29.1) rotate(-45)">2 dpi</text>
<text transform="translate(396.82,29.1) rotate(-45)">3 dpi</text>
<text transform="translate(423.36,29.1) rotate(-45)">4 dpi</text>
<text transform="translate(449.90,29.1) rotate(-45)">5 dpi</text>
<text transform="translate(476.44,29.1) rotate(-45)">6 dpi</text>
</g>
<g font-family="'Liberation Serif', serif" font-weight="bold" font-size="41.5" fill="#000">
<text x="10.3" y="46.8" font-size="42.3">A</text>
<text x="5.5" y="585">B</text>
</g>
<g stroke="#707070" stroke-width="1" fill="none" shape-rendering="crispEdges">
<path d="M303.4 37.8L304.0 37.8M303.4 48.8L304.0 48.8M303.4 37.8L303.4 48.8M226.2 43.3L303.4 43.3M226.2 59.9L304.0 59.9M226.2 43.3L226.2 59.9M189.4 51.6L226.2 51.6M189.4 70.9L304.0 70.9M189.4 51.6L189.4 70.9M280.5 81.9L304.0 81.9M280.5 93.0L304.0 93.0M280.5 81.9L280.5 93.0M301.2 115.0L304.0 115.0M301.2 126.1L304.0 126.1M301.2 115.0L301.2 126.1M292.5 104.0L304.0 104.0M292.5 120.5L301.2 120.5M292.5 104.0L292.5 120.5M277.4 112.3L292.5 112.3M277.4 137.1L304.0 137.1M277.4 112.3L277.4 137.1M274.2 87.5L280.5 87.5M274.2 124.7L277.4 124.7M274.2 87.5L274.2 124.7M302.4 170.2L304.0 170.2M302.4 181.2L304.0 181.2M302.4 170.2L302.4 181.2M298.0 159.1L304.0 159.1M298.0 175.7L302.4 175.7M298.0 159.1L298.0 175.7M292.5 148.1L304.0 148.1M292.5 167.4L298.0 167.4M292.5 148.1L292.5 167.4M301.5 203.3L304.0 203.3M301.5 214.3L304.0 214.3M301.5 203.3L301.5 214.3M281.2 192.2L304.0 192.2M281.2 208.8L301.5 208.8M281.2 192.2L281.2 208.8M264.3 157.8L292.5 157.8M264.3 200.5L281.2 200.5M264.3 157.8L264.3 200.5M293.5 225.3L304.0 225.3M293.5 236.4L304.0 236.4M293.5 225.3L293.5 236.4M290.3 247.4L304.0 247.4M290.3 258.4L304.0 258.4M290.3 247.4L290.3 258.4M259.6 230.8L293.5 230.8M259.6 252.9L290.3 252.9M259.6 230.8L259.6 252.9M244.5 179.1L264.3 179.1M244.5 241.9L259.6 241.9M244.5 179.1L244.5 241.9M242.5 106.1L274.2 106.1M242.5 210.5L244.5 210.5M242.5 106.1L242.5 210.5M298.8 280.5L304.0 280.5M298.8 291.5L304.0 291.5M298.8 280.5L298.8 291.5M286.2 269.4L304.0 269.4M286.2 286.0L298.8 286.0M286.2 269.4L286.2 286.0M302.0 302.5L304.0 302.5M302.0 313.6L304.0 313.6M302.0 302.5L302.0 313.6M296.4 308.0L302.0 308.0M296.4 324.6L304.0 324.6M296.4 308.0L296.4 324.6M282.6 277.7L286.2 277.7M282.6 316.3L296.4 316.3M282.6 277.7L282.6 316.3M219.5 158.3L242.5 158.3M219.5 297.0L282.6 297.0M219.5 158.3L219.5 297.0M156.7 61.3L189.4 61.3M156.7 227.7L219.5 227.7M156.7 61.3L156.7 227.7M293.5 346.7L304.0 346.7M293.5 357.7L304.0 357.7M293.5 346.7L293.5 357.7M269.6 352.2L293.5 352.2M269.6 368.7L304.0 368.7M269.6 352.2L269.6 368.7M246.5 335.6L304.0 335.6M246.5 360.4L269.6 360.4M246.5 335.6L246.5 360.4M223.1 379.7L304.0 379.7M223.1 390.8L304.0 390.8M223.1 379.7L223.1 390.8M203.4 348.0L246.5 348.0M203.4 385.3L223.1 385.3M203.4 348.0L203.4 385.3M139.2 144.5L156.7 144.5M139.2 366.6L203.4 366.6M139.2 144.5L139.2 366.6M291.4 401.8L304.0 401.8M291.4 412.8L304.0 412.8M291.4 401.8L291.4 412.8M296.2 423.9L304.0 423.9M296.2 434.9L304.0 434.9M296.2 423.9L296.2 434.9M233.8 407.3L291.4 407.3M233.8 429.4L296.2 429.4M233.8 407.3L233.8 429.4M281.4 445.9L304.0 445.9M281.4 457.0L304.0 457.0M281.4 445.9L281.4 457.0M245.3 451.4L281.4 451.4M245.3 468.0L304.0 468.0M245.3 451.4L245.3 468.0M237.5 459.7L245.3 459.7M237.5 479.0L304.0 479.0M237.5 459.7L237.5 479.0M271.0 490.0L304.0 490.0M271.0 501.1L304.0 501.1M271.0 490.0L271.0 501.1M285.9 512.1L304.0 512.1M285.9 523.1L304.0 523.1M285.9 512.1L285.9 523.1M256.7 495.6L271.0 495.6M256.7 517.6L285.9 517.6M256.7 495.6L256.7 517.6M284.6 534.2L304.0 534.2M284.6 545.2L304.0 545.2M284.6 534.2L284.6 545.2M208.4 506.6L256.7 506.6M208.4 539.7L284.6 539.7M208.4 506.6L208.4 539.7M180.1 469.4L237.5 469.4M180.1 523.1L208.4 523.1M180.1 469.4L180.1 523.1M164.0 418.4L233.8 418.4M164.0 496.2L180.1 496.2M164.0 418.4L164.0 496.2M126.1 255.5L139.2 255.5M126.1 457.3L164.0 457.3M126.1 255.5L126.1 457.3"/>
</g>
<g>
<path d="M67.5 607.0V710.5H222.0M64.1 710.5H67.5M67.5 710.5V713.9M64.1 676.0H67.5M119.0 710.5V713.9M64.1 641.5H67.5M170.5 710.5V713.9M64.1 607.0H67.5M222.0 710.5V713.9" stroke="#cecece" stroke-width="1" fill="none" shape-rendering="crispEdges"/>
<g font-family="'Liberation Serif', serif" font-size="10" fill="#111">
<text x="57.5" y="714.1" text-anchor="end">0.001</text>
<text x="67.8" y="727.1" text-anchor="middle">0.001</text>
<text x="57.5" y="679.6" text-anchor="end">0.1</text>
<text x="119.3" y="727.1" text-anchor="middle">0.1</text>
<text x="57.5" y="645.1" text-anchor="end">10</text>
<text x="170.8" y="727.1" text-anchor="middle">10</text>
<text x="57.5" y="610.6" text-anchor="end">1000</text>
<text x="222.3" y="727.1" text-anchor="middle">1000</text>
</g>
<g font-family="'Liberation Serif', serif" font-size="15" fill="#111" text-anchor="middle">
<text x="147.0" y="592.0" font-size="16">1 dpi</text>
<text x="145.5" y="740.0">Relative miRNA level</text>
<text transform="translate(27.4,661.3) rotate(-90)" font-size="15.1">Relative miRNA level</text>
</g>
<circle cx="72.7" cy="692.9" r="2.1" fill="#c4283a"/>
<circle cx="83.3" cy="686.8" r="2.1" fill="#c4283a"/>
<circle cx="140.2" cy="666.3" r="2.1" fill="#42dc48"/>
<circle cx="80.5" cy="697.6" r="2.1" fill="#050505"/>
<circle cx="84.7" cy="697.1" r="2.1" fill="#050505"/>
<circle cx="96.6" cy="686.0" r="2.1" fill="#050505"/>
<circle cx="104.9" cy="686.0" r="2.1" fill="#050505"/>
<circle cx="110.2" cy="679.6" r="2.1" fill="#050505"/>
<circle cx="111.6" cy="679.6" r="2.1" fill="#050505"/>
<circle cx="114.4" cy="677.7" r="2.1" fill="#050505"/>
<circle cx="131.0" cy="666.6" r="2.1" fill="#050505"/>
<circle cx="133.2" cy="666.6" r="2.1" fill="#050505"/>
<circle cx="138.2" cy="661.0" r="2.1" fill="#050505"/>
<circle cx="139.6" cy="660.7" r="2.1" fill="#050505"/>
<circle cx="153.2" cy="651.6" r="2.1" fill="#050505"/>
<circle cx="160.1" cy="647.1" r="2.1" fill="#050505"/>
<circle cx="161.5" cy="645.5" r="2.1" fill="#050505"/>
<circle cx="165.7" cy="642.2" r="2.1" fill="#050505"/>
<circle cx="169.8" cy="639.4" r="2.1" fill="#050505"/>
<circle cx="171.5" cy="640.8" r="2.1" fill="#050505"/>
<circle cx="177.0" cy="634.9" r="2.1" fill="#050505"/>
<circle cx="180.9" cy="632.4" r="2.1" fill="#050505"/>
<circle cx="182.6" cy="630.5" r="2.1" fill="#050505"/>
<circle cx="186.5" cy="628.3" r="2.1" fill="#050505"/>
<circle cx="187.9" cy="629.7" r="2.1" fill="#050505"/>
<circle cx="190.1" cy="628.8" r="2.1" fill="#050505"/>
<circle cx="192.6" cy="626.1" r="2.1" fill="#050505"/>
<circle cx="194.0" cy="622.7" r="2.1" fill="#050505"/>
<circle cx="197.9" cy="621.4" r="2.1" fill="#050505"/>
<circle cx="200.6" cy="620.8" r="2.1" fill="#050505"/>
<circle cx="201.5" cy="622.2" r="2.1" fill="#050505"/>
<circle cx="204.2" cy="616.1" r="2.1" fill="#050505"/>
<circle cx="209.5" cy="610.8" r="2.1" fill="#050505"/>
<circle cx="208.9" cy="617.7" r="2.1" fill="#050505"/>
<circle cx="213.4" cy="616.1" r="2.1" fill="#050505"/>
</g>
<g>
<path d="M287.5 608.0V710.1H440.0M284.1 710.1H287.5M287.5 710.1V713.5M284.1 676.1H287.5M338.3 710.1V713.5M284.1 642.0H287.5M389.2 710.1V713.5M284.1 608.0H287.5M440.0 710.1V713.5" stroke="#cecece" stroke-width="1" fill="none" shape-rendering="crispEdges"/>
<g font-family="'Liberation Serif', serif" font-size="10" fill="#111">
<text x="277.5" y="713.7" text-anchor="end">0.001</text>
<text x="287.8" y="726.7" text-anchor="middle">0.001</text>
<text x="277.5" y="679.7" text-anchor="end">0.1</text>
<text x="338.6" y="726.7" text-anchor="middle">0.1</text>
<text x="277.5" y="645.6" text-anchor="end">10</text>
<text x="389.5" y="726.7" text-anchor="middle">10</text>
<text x="277.5" y="611.6" text-anchor="end">1000</text>
<text x="440.3" y="726.7" text-anchor="middle">1000</text>
</g>
<g font-family="'Liberation Serif', serif" font-size="15" fill="#111" text-anchor="middle">
<text x="354.6" y="592.0" font-size="16">2 dpi</text>
<text x="367.0" y="740.0">Relative miRNA level</text>
<text transform="translate(250.0,657.1) rotate(-90)" font-size="15.1">Relative miRNA level</text>
</g>
<circle cx="363.5" cy="635.8" r="2.1" fill="#c4283a"/>
<circle cx="428.9" cy="623.3" r="2.1" fill="#42dc48"/>
<circle cx="435.9" cy="618.6" r="2.1" fill="#42dc48"/>
<circle cx="300.5" cy="699.6" r="2.1" fill="#050505"/>
<circle cx="301.9" cy="699.0" r="2.1" fill="#050505"/>
<circle cx="303.8" cy="698.2" r="2.1" fill="#050505"/>
<circle cx="316.6" cy="687.4" r="2.1" fill="#050505"/>
<circle cx="323.3" cy="686.8" r="2.1" fill="#050505"/>
<circle cx="327.4" cy="680.4" r="2.1" fill="#050505"/>
<circle cx="331.6" cy="680.4" r="2.1" fill="#050505"/>
<circle cx="333.2" cy="678.2" r="2.1" fill="#050505"/>
<circle cx="336.0" cy="678.8" r="2.1" fill="#050505"/>
<circle cx="344.9" cy="667.7" r="2.1" fill="#050505"/>
<circle cx="347.7" cy="667.1" r="2.1" fill="#050505"/>
<circle cx="349.9" cy="667.7" r="2.1" fill="#050505"/>
<circle cx="353.8" cy="662.1" r="2.1" fill="#050505"/>
<circle cx="367.6" cy="652.7" r="2.1" fill="#050505"/>
<circle cx="376.2" cy="647.7" r="2.1" fill="#050505"/>
<circle cx="378.7" cy="645.8" r="2.1" fill="#050505"/>
<circle cx="380.1" cy="642.7" r="2.1" fill="#050505"/>
<circle cx="389.3" cy="640.2" r="2.1" fill="#050505"/>
<circle cx="390.7" cy="641.6" r="2.1" fill="#050505"/>
<circle cx="392.1" cy="635.8" r="2.1" fill="#050505"/>
<circle cx="398.2" cy="633.3" r="2.1" fill="#050505"/>
<circle cx="400.4" cy="634.4" r="2.1" fill="#050505"/>
<circle cx="401.2" cy="631.1" r="2.1" fill="#050505"/>
<circle cx="404.5" cy="629.1" r="2.1" fill="#050505"/>
<circle cx="407.3" cy="626.9" r="2.1" fill="#050505"/>
<circle cx="407.9" cy="631.6" r="2.1" fill="#050505"/>
<circle cx="412.9" cy="630.5" r="2.1" fill="#050505"/>
<circle cx="413.4" cy="621.9" r="2.1" fill="#050505"/>
<circle cx="414.8" cy="620.8" r="2.1" fill="#050505"/>
<circle cx="417.6" cy="621.9" r="2.1" fill="#050505"/>
<circle cx="417.9" cy="626.9" r="2.1" fill="#050505"/>
<circle cx="420.1" cy="622.7" r="2.1" fill="#050505"/>
<circle cx="420.6" cy="617.2" r="2.1" fill="#050505"/>
<circle cx="426.7" cy="611.6" r="2.1" fill="#050505"/>
</g>
<g>
<path d="M508.0 608.9V711.5H660.6M504.6 711.5H508.0M508.0 711.5V714.9M504.6 677.3H508.0M558.9 711.5V714.9M504.6 643.1H508.0M609.7 711.5V714.9M504.6 608.9H508.0M660.6 711.5V714.9" stroke="#cecece" stroke-width="1" fill="none" shape-rendering="crispEdges"/>
<g font-family="'Liberation Serif', serif" font-size="10" fill="#111">
<text x="498.0" y="715.1" text-anchor="end">0.001</text>
<text x="508.3" y="728.1" text-anchor="middle">0.001</text>
<text x="498.0" y="680.9" text-anchor="end">0.1</text>
<text x="559.2" y="728.1" text-anchor="middle">0.1</text>
<text x="498.0" y="646.7" text-anchor="end">10</text>
<text x="610.0" y="728.1" text-anchor="middle">10</text>
<text x="498.0" y="612.5" text-anchor="end">1000</text>
<text x="660.9" y="728.1" text-anchor="middle">1000</text>
</g>
<g font-family="'Liberation Serif', serif" font-size="15" fill="#111" text-anchor="middle">
<text x="578.1" y="592.0" font-size="16">3 dpi</text>
<text x="588.6" y="740.5">Relative miRNA level</text>
<text transform="translate(471.3,658.3) rotate(-90)" font-size="15.1">Relative miRNA level</text>
</g>
<circle cx="510.8" cy="700.7" r="2.1" fill="#c4283a"/>
<circle cx="528.0" cy="688.8" r="2.1" fill="#c4283a"/>
<circle cx="561.3" cy="668.2" r="2.1" fill="#c4283a"/>
<circle cx="612.1" cy="629.7" r="2.1" fill="#c4283a"/>
<circle cx="633.1" cy="618.0" r="2.1" fill="#c4283a"/>
<circle cx="633.4" cy="631.6" r="2.1" fill="#42dc48"/>
<circle cx="638.4" cy="631.3" r="2.1" fill="#42dc48"/>
<circle cx="642.3" cy="628.3" r="2.1" fill="#42dc48"/>
<circle cx="654.5" cy="619.4" r="2.1" fill="#42dc48"/>
<circle cx="519.1" cy="698.7" r="2.1" fill="#050505"/>
<circle cx="519.7" cy="699.9" r="2.1" fill="#050505"/>
<circle cx="523.3" cy="699.3" r="2.1" fill="#050505"/>
<circle cx="535.2" cy="687.9" r="2.1" fill="#050505"/>
<circle cx="540.2" cy="687.9" r="2.1" fill="#050505"/>
<circle cx="549.1" cy="681.3" r="2.1" fill="#050505"/>
<circle cx="550.5" cy="680.4" r="2.1" fill="#050505"/>
<circle cx="551.9" cy="681.0" r="2.1" fill="#050505"/>
<circle cx="553.2" cy="679.9" r="2.1" fill="#050505"/>
<circle cx="554.4" cy="679.3" r="2.1" fill="#050505"/>
<circle cx="567.1" cy="668.5" r="2.1" fill="#050505"/>
<circle cx="568.2" cy="668.0" r="2.1" fill="#050505"/>
<circle cx="572.4" cy="662.7" r="2.1" fill="#050505"/>
<circle cx="578.2" cy="663.0" r="2.1" fill="#050505"/>
<circle cx="592.4" cy="653.5" r="2.1" fill="#050505"/>
<circle cx="593.2" cy="648.8" r="2.1" fill="#050505"/>
<circle cx="597.6" cy="643.8" r="2.1" fill="#050505"/>
<circle cx="599.6" cy="647.1" r="2.1" fill="#050505"/>
<circle cx="608.7" cy="636.6" r="2.1" fill="#050505"/>
<circle cx="608.4" cy="641.9" r="2.1" fill="#050505"/>
<circle cx="610.7" cy="643.0" r="2.1" fill="#050505"/>
<circle cx="619.8" cy="632.4" r="2.1" fill="#050505"/>
<circle cx="620.4" cy="635.2" r="2.1" fill="#050505"/>
<circle cx="621.8" cy="631.1" r="2.1" fill="#050505"/>
<circle cx="622.6" cy="634.4" r="2.1" fill="#050505"/>
<circle cx="624.5" cy="628.8" r="2.1" fill="#050505"/>
<circle cx="625.9" cy="627.7" r="2.1" fill="#050505"/>
<circle cx="627.9" cy="622.7" r="2.1" fill="#050505"/>
<circle cx="630.9" cy="633.0" r="2.1" fill="#050505"/>
<circle cx="631.5" cy="623.6" r="2.1" fill="#050505"/>
<circle cx="632.9" cy="621.9" r="2.1" fill="#050505"/>
<circle cx="637.0" cy="623.6" r="2.1" fill="#050505"/>
<circle cx="639.0" cy="618.0" r="2.1" fill="#050505"/>
<circle cx="642.6" cy="619.4" r="2.1" fill="#050505"/>
<circle cx="644.0" cy="621.9" r="2.1" fill="#050505"/>
<circle cx="644.5" cy="624.1" r="2.1" fill="#050505"/>
<circle cx="644.8" cy="622.7" r="2.1" fill="#050505"/>
<circle cx="650.9" cy="612.8" r="2.1" fill="#050505"/>
</g>
<g>
<path d="M68.0 779.7V882.3H220.6M64.6 882.3H68.0M68.0 882.3V885.7M64.6 848.1H68.0M118.9 882.3V885.7M64.6 813.9H68.0M169.7 882.3V885.7M64.6 779.7H68.0M220.6 882.3V885.7" stroke="#cecece" stroke-width="1" fill="none" shape-rendering="crispEdges"/>
<g font-family="'Liberation Serif', serif" font-size="10" fill="#111">
<text x="58.0" y="885.9" text-anchor="end">0.001</text>
<text x="68.3" y="898.9" text-anchor="middle">0.001</text>
<text x="58.0" y="851.7" text-anchor="end">0.1</text>
<text x="119.2" y="898.9" text-anchor="middle">0.1</text>
<text x="58.0" y="817.5" text-anchor="end">10</text>
<text x="170.0" y="898.9" text-anchor="middle">10</text>
<text x="58.0" y="783.3" text-anchor="end">1000</text>
<text x="220.9" y="898.9" text-anchor="middle">1000</text>
</g>
<g font-family="'Liberation Serif', serif" font-size="15" fill="#111" text-anchor="middle">
<text x="144.3" y="779.7" font-size="16">4 dpi</text>
<text x="142.0" y="911.0">Relative miRNA level</text>
<text transform="translate(30.3,836.2) rotate(-90)" font-size="15.1">Relative miRNA level</text>
</g>
<circle cx="88.3" cy="858.8" r="2.1" fill="#c4283a"/>
<circle cx="90.2" cy="859.9" r="2.1" fill="#c4283a"/>
<circle cx="114.9" cy="839.3" r="2.1" fill="#c4283a"/>
<circle cx="152.1" cy="814.7" r="2.1" fill="#c4283a"/>
<circle cx="162.1" cy="807.7" r="2.1" fill="#c4283a"/>
<circle cx="177.9" cy="800.5" r="2.1" fill="#c4283a"/>
<circle cx="207.0" cy="802.4" r="2.1" fill="#42dc48"/>
<circle cx="212.8" cy="790.2" r="2.1" fill="#42dc48"/>
<circle cx="214.2" cy="790.2" r="2.1" fill="#42dc48"/>
<circle cx="83.8" cy="870.4" r="2.1" fill="#050505"/>
<circle cx="85.2" cy="869.6" r="2.1" fill="#050505"/>
<circle cx="86.6" cy="870.7" r="2.1" fill="#050505"/>
<circle cx="88.3" cy="871.8" r="2.1" fill="#050505"/>
<circle cx="96.0" cy="858.8" r="2.1" fill="#050505"/>
<circle cx="105.5" cy="851.8" r="2.1" fill="#050505"/>
<circle cx="106.9" cy="852.7" r="2.1" fill="#050505"/>
<circle cx="108.8" cy="850.4" r="2.1" fill="#050505"/>
<circle cx="110.5" cy="852.4" r="2.1" fill="#050505"/>
<circle cx="124.9" cy="839.3" r="2.1" fill="#050505"/>
<circle cx="132.1" cy="833.5" r="2.1" fill="#050505"/>
<circle cx="136.3" cy="839.1" r="2.1" fill="#050505"/>
<circle cx="140.2" cy="833.8" r="2.1" fill="#050505"/>
<circle cx="154.6" cy="824.4" r="2.1" fill="#050505"/>
<circle cx="156.2" cy="819.6" r="2.1" fill="#050505"/>
<circle cx="162.3" cy="814.1" r="2.1" fill="#050505"/>
<circle cx="164.3" cy="812.7" r="2.1" fill="#050505"/>
<circle cx="167.1" cy="818.0" r="2.1" fill="#050505"/>
<circle cx="174.0" cy="806.3" r="2.1" fill="#050505"/>
<circle cx="176.2" cy="805.5" r="2.1" fill="#050505"/>
<circle cx="179.3" cy="804.7" r="2.1" fill="#050505"/>
<circle cx="179.8" cy="803.0" r="2.1" fill="#050505"/>
<circle cx="180.9" cy="804.4" r="2.1" fill="#050505"/>
<circle cx="182.3" cy="801.6" r="2.1" fill="#050505"/>
<circle cx="183.1" cy="803.3" r="2.1" fill="#050505"/>
<circle cx="183.7" cy="802.4" r="2.1" fill="#050505"/>
<circle cx="187.0" cy="798.8" r="2.1" fill="#050505"/>
<circle cx="190.4" cy="794.1" r="2.1" fill="#050505"/>
<circle cx="191.5" cy="792.7" r="2.1" fill="#050505"/>
<circle cx="191.5" cy="803.0" r="2.1" fill="#050505"/>
<circle cx="194.2" cy="798.8" r="2.1" fill="#050505"/>
<circle cx="197.0" cy="789.1" r="2.1" fill="#050505"/>
<circle cx="200.6" cy="793.6" r="2.1" fill="#050505"/>
<circle cx="202.0" cy="795.0" r="2.1" fill="#050505"/>
<circle cx="211.2" cy="783.9" r="2.1" fill="#050505"/>
</g>
<g>
<path d="M288.0 779.7V882.3H440.6M284.6 882.3H288.0M288.0 882.3V885.7M284.6 848.1H288.0M338.9 882.3V885.7M284.6 813.9H288.0M389.7 882.3V885.7M284.6 779.7H288.0M440.6 882.3V885.7" stroke="#cecece" stroke-width="1" fill="none" shape-rendering="crispEdges"/>
<g font-family="'Liberation Serif', serif" font-size="10" fill="#111">
<text x="278.0" y="885.9" text-anchor="end">0.001</text>
<text x="288.3" y="898.9" text-anchor="middle">0.001</text>
<text x="278.0" y="851.7" text-anchor="end">0.1</text>
<text x="339.2" y="898.9" text-anchor="middle">0.1</text>
<text x="278.0" y="817.5" text-anchor="end">10</text>
<text x="390.0" y="898.9" text-anchor="middle">10</text>
<text x="278.0" y="783.3" text-anchor="end">1000</text>
<text x="440.9" y="898.9" text-anchor="middle">1000</text>
</g>
<g font-family="'Liberation Serif', serif" font-size="15" fill="#111" text-anchor="middle">
<text x="356.2" y="779.7" font-size="16">5 dpi</text>
<text x="363.4" y="911.0">Relative miRNA level</text>
<text transform="translate(251.0,831.8) rotate(-90)" font-size="15.1">Relative miRNA level</text>
</g>
<circle cx="312.2" cy="859.6" r="2.1" fill="#c4283a"/>
<circle cx="336.6" cy="839.3" r="2.1" fill="#c4283a"/>
<circle cx="375.4" cy="814.7" r="2.1" fill="#c4283a"/>
<circle cx="385.4" cy="807.4" r="2.1" fill="#c4283a"/>
<circle cx="395.4" cy="800.5" r="2.1" fill="#c4283a"/>
<circle cx="412.3" cy="789.1" r="2.1" fill="#c4283a"/>
<circle cx="314.1" cy="870.4" r="2.1" fill="#42dc48"/>
<circle cx="300.8" cy="870.7" r="2.1" fill="#050505"/>
<circle cx="302.2" cy="869.6" r="2.1" fill="#050505"/>
<circle cx="308.0" cy="871.8" r="2.1" fill="#050505"/>
<circle cx="313.3" cy="859.3" r="2.1" fill="#050505"/>
<circle cx="317.4" cy="858.8" r="2.1" fill="#050505"/>
<circle cx="326.3" cy="851.0" r="2.1" fill="#050505"/>
<circle cx="329.1" cy="852.7" r="2.1" fill="#050505"/>
<circle cx="330.5" cy="851.8" r="2.1" fill="#050505"/>
<circle cx="333.2" cy="850.4" r="2.1" fill="#050505"/>
<circle cx="346.6" cy="838.8" r="2.1" fill="#050505"/>
<circle cx="348.2" cy="839.3" r="2.1" fill="#050505"/>
<circle cx="355.2" cy="833.5" r="2.1" fill="#050505"/>
<circle cx="361.5" cy="833.8" r="2.1" fill="#050505"/>
<circle cx="374.0" cy="819.9" r="2.1" fill="#050505"/>
<circle cx="380.1" cy="824.4" r="2.1" fill="#050505"/>
<circle cx="383.7" cy="813.8" r="2.1" fill="#050505"/>
<circle cx="386.0" cy="812.7" r="2.1" fill="#050505"/>
<circle cx="386.2" cy="818.0" r="2.1" fill="#050505"/>
<circle cx="392.9" cy="806.3" r="2.1" fill="#050505"/>
<circle cx="396.2" cy="804.7" r="2.1" fill="#050505"/>
<circle cx="397.0" cy="802.4" r="2.1" fill="#050505"/>
<circle cx="398.4" cy="803.8" r="2.1" fill="#050505"/>
<circle cx="399.8" cy="805.2" r="2.1" fill="#050505"/>
<circle cx="401.2" cy="803.3" r="2.1" fill="#050505"/>
<circle cx="405.4" cy="798.8" r="2.1" fill="#050505"/>
<circle cx="405.9" cy="800.5" r="2.1" fill="#050505"/>
<circle cx="406.5" cy="803.0" r="2.1" fill="#050505"/>
<circle cx="410.6" cy="794.1" r="2.1" fill="#050505"/>
<circle cx="412.0" cy="792.7" r="2.1" fill="#050505"/>
<circle cx="413.1" cy="795.0" r="2.1" fill="#050505"/>
<circle cx="414.5" cy="799.1" r="2.1" fill="#050505"/>
<circle cx="419.8" cy="790.2" r="2.1" fill="#050505"/>
<circle cx="424.0" cy="790.2" r="2.1" fill="#050505"/>
<circle cx="430.9" cy="783.9" r="2.1" fill="#050505"/>
</g>
<g>
<path d="M513.0 778.0V880.4H665.6M509.6 880.4H513.0M513.0 880.4V883.8M509.6 846.3H513.0M563.9 880.4V883.8M509.6 812.1H513.0M614.7 880.4V883.8M509.6 778.0H513.0M665.6 880.4V883.8" stroke="#cecece" stroke-width="1" fill="none" shape-rendering="crispEdges"/>
<g font-family="'Liberation Serif', serif" font-size="10" fill="#111">
<text x="503.0" y="884.0" text-anchor="end">0.001</text>
<text x="513.3" y="897.0" text-anchor="middle">0.001</text>
<text x="503.0" y="849.9" text-anchor="end">0.1</text>
<text x="564.2" y="897.0" text-anchor="middle">0.1</text>
<text x="503.0" y="815.7" text-anchor="end">10</text>
<text x="615.0" y="897.0" text-anchor="middle">10</text>
<text x="503.0" y="781.6" text-anchor="end">1000</text>
<text x="665.9" y="897.0" text-anchor="middle">1000</text>
</g>
<g font-family="'Liberation Serif', serif" font-size="15" fill="#111" text-anchor="middle">
<text x="579.7" y="779.6" font-size="16">6 dpi</text>
<text x="590.2" y="910.3">Relative miRNA level</text>
<text transform="translate(473.2,832.7) rotate(-90)" font-size="15.1">Relative miRNA level</text>
</g>
<circle cx="533.6" cy="857.9" r="2.1" fill="#c4283a"/>
<circle cx="535.8" cy="857.1" r="2.1" fill="#c4283a"/>
<circle cx="559.9" cy="837.7" r="2.1" fill="#c4283a"/>
<circle cx="601.0" cy="813.0" r="2.1" fill="#c4283a"/>
<circle cx="620.1" cy="798.8" r="2.1" fill="#c4283a"/>
<circle cx="635.9" cy="787.2" r="2.1" fill="#c4283a"/>
<circle cx="567.7" cy="850.4" r="2.1" fill="#42dc48"/>
<circle cx="522.7" cy="869.3" r="2.1" fill="#050505"/>
<circle cx="524.1" cy="867.9" r="2.1" fill="#050505"/>
<circle cx="528.8" cy="870.1" r="2.1" fill="#050505"/>
<circle cx="533.8" cy="868.7" r="2.1" fill="#050505"/>
<circle cx="542.4" cy="857.1" r="2.1" fill="#050505"/>
<circle cx="551.9" cy="849.0" r="2.1" fill="#050505"/>
<circle cx="553.8" cy="848.8" r="2.1" fill="#050505"/>
<circle cx="558.2" cy="851.0" r="2.1" fill="#050505"/>
<circle cx="563.2" cy="848.8" r="2.1" fill="#050505"/>
<circle cx="571.8" cy="837.7" r="2.1" fill="#050505"/>
<circle cx="577.1" cy="831.9" r="2.1" fill="#050505"/>
<circle cx="587.1" cy="832.4" r="2.1" fill="#050505"/>
<circle cx="591.8" cy="822.7" r="2.1" fill="#050505"/>
<circle cx="599.0" cy="818.3" r="2.1" fill="#050505"/>
<circle cx="607.9" cy="816.6" r="2.1" fill="#050505"/>
<circle cx="608.2" cy="812.2" r="2.1" fill="#050505"/>
<circle cx="609.8" cy="810.8" r="2.1" fill="#050505"/>
<circle cx="615.1" cy="806.1" r="2.1" fill="#050505"/>
<circle cx="619.0" cy="804.7" r="2.1" fill="#050505"/>
<circle cx="621.2" cy="803.8" r="2.1" fill="#050505"/>
<circle cx="623.2" cy="802.4" r="2.1" fill="#050505"/>
<circle cx="624.5" cy="801.1" r="2.1" fill="#050505"/>
<circle cx="626.2" cy="801.1" r="2.1" fill="#050505"/>
<circle cx="630.1" cy="797.7" r="2.1" fill="#050505"/>
<circle cx="630.9" cy="800.5" r="2.1" fill="#050505"/>
<circle cx="631.8" cy="797.7" r="2.1" fill="#050505"/>
<circle cx="633.7" cy="792.2" r="2.1" fill="#050505"/>
<circle cx="636.5" cy="793.6" r="2.1" fill="#050505"/>
<circle cx="638.4" cy="792.7" r="2.1" fill="#050505"/>
<circle cx="638.7" cy="790.8" r="2.1" fill="#050505"/>
<circle cx="642.0" cy="787.2" r="2.1" fill="#050505"/>
<circle cx="645.3" cy="788.9" r="2.1" fill="#050505"/>
<circle cx="653.9" cy="788.9" r="2.1" fill="#050505"/>
<circle cx="655.1" cy="782.2" r="2.1" fill="#050505"/>
</g>
</svg>
</body></html>
